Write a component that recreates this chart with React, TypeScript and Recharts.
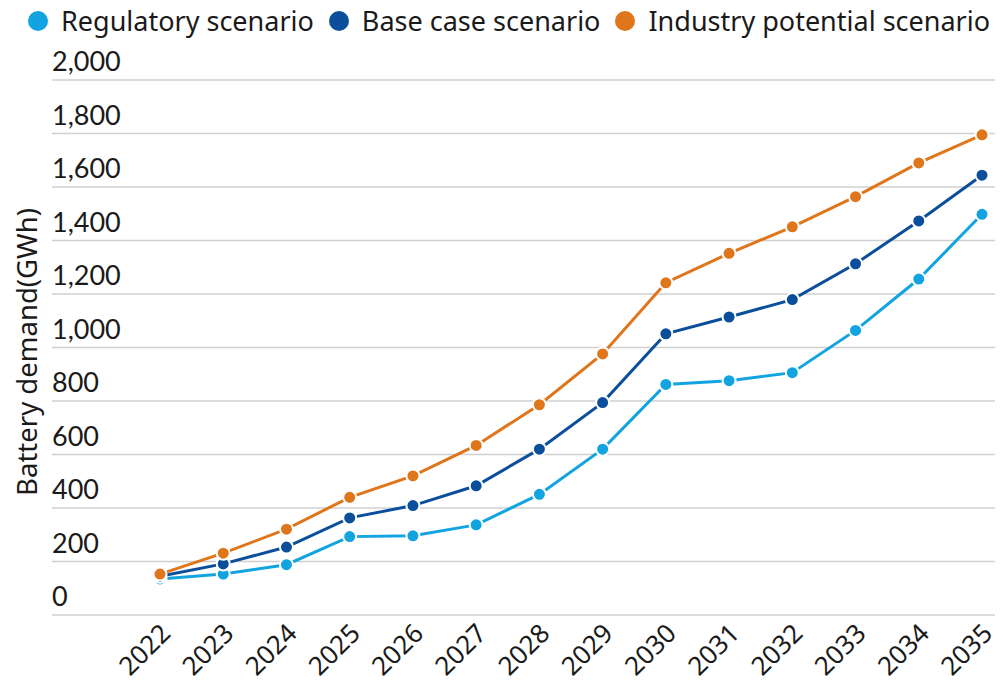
import React from 'react';
import { LineChart, Line, XAxis, YAxis, CartesianGrid, Legend } from 'recharts';

// Años del eje X
const years = ['2022', '2023', '2024', '2025', '2026', '2027', '2028', '2029', '2030', '2031', '2032', '2033', '2034', '2035'];

// Valores (GWh)
const regulatory = [135, 153, 188, 293, 296, 337, 451, 620, 862, 876, 906, 1064, 1256, 1498];
const baseCase = [145, 191, 254, 363, 409, 483, 620, 794, 1051, 1114, 1179, 1313, 1473, 1644];
const industry = [153, 231, 321, 440, 520, 634, 786, 976, 1242, 1352, 1451, 1564, 1690, 1795];

const yTicks = [0, 200, 400, 600, 800, 1000, 1200, 1400, 1600, 1800, 2000];

const series = [
  { key: 'regulatory', name: 'Regulatory scenario', color: '#12a4e1' },
  { key: 'baseCase', name: 'Base case scenario', color: '#0b4f9c' },
  { key: 'industry', name: 'Industry potential scenario', color: '#e0761b' },
];

const data = years.map((year, i) => ({
  year,
  regulatory: regulatory[i],
  baseCase: baseCase[i],
  industry: industry[i],
}));

const FONT_NUM = 'Lato, "Noto Sans", sans-serif';
const FONT_TXT = '"Noto Sans", Lato, sans-serif';

const formatNumber = (v: number) => v.toLocaleString('en-US');

const YTick = (props: any) => {
  const { y, payload } = props;
  return (
    <text x={52} y={y - 9} textAnchor="start" fontSize={27} fill="#1a1a1a" fontFamily={FONT_NUM}>
      {formatNumber(payload.value)}
    </text>
  );
};

const XTick = (props: any) => {
  const { x, y, payload } = props;
  const tx = x + 12;
  const ty = y + 12;
  return (
    <text
      x={tx}
      y={ty}
      textAnchor="end"
      fontSize={26}
      fill="#1a1a1a"
      fontFamily={FONT_TXT}
      transform={`rotate(-45, ${tx}, ${ty})`}
    >
      {payload.value}
    </text>
  );
};

const LegendContent = () => (
  <div style={{ display: 'flex', alignItems: 'center', whiteSpace: 'nowrap', paddingLeft: 28, paddingTop: 2, fontFamily: FONT_TXT, fontSize: 27, color: '#1a1a1a' }}>
    {series.map((s) => (
      <div key={s.key} style={{ display: 'flex', alignItems: 'center', flexShrink: 0, marginRight: 15 }}>
        <span style={{ width: 20, height: 20, borderRadius: 10, background: s.color, display: 'inline-block', marginRight: 13 }} />
        <span>{s.name}</span>
      </div>
    ))}
  </div>
);

const YLabel = () => (
  <text
    x={37}
    y={352}
    textAnchor="middle"
    fontSize={27.5}
    fill="#1a1a1a"
    fontFamily={FONT_TXT}
    transform="rotate(-90, 37, 352)"
  >
    Battery demand(GWh)
  </text>
);

const App: React.FC = () => {
  return (
    <div style={{ margin: -8, width: 1003, height: 691, background: '#fff' }}>
      <LineChart width={1003} height={691} data={data} margin={{ top: 0, right: 0, bottom: 0, left: 0 }}>
        <Legend verticalAlign="top" align="left" height={80} wrapperStyle={{ width: 1003 }} content={<LegendContent />} />
        <CartesianGrid vertical={false} stroke="#d0d0d0" strokeWidth={1.5} />
        <XAxis
          dataKey="year"
          scale="point"
          padding={{ left: 108, right: 21 }}
          axisLine={false}
          tickLine={false}
          tick={<XTick />}
          height={76}
          interval={0}
        />
        <YAxis
          domain={[0, 2000]}
          ticks={yTicks}
          width={52}
          axisLine={false}
          tickLine={false}
          tick={<YTick />}
          label={<YLabel />}
        />
        {series.map((s) => (
          <Line
            key={s.key}
            dataKey={s.key}
            name={s.name}
            stroke={s.color}
            strokeWidth={3}
            dot={{ r: 6.5, fill: s.color, stroke: '#fff', strokeWidth: 2 }}
            isAnimationActive={false}
          />
        ))}
      </LineChart>
    </div>
  );
};

export default App;
